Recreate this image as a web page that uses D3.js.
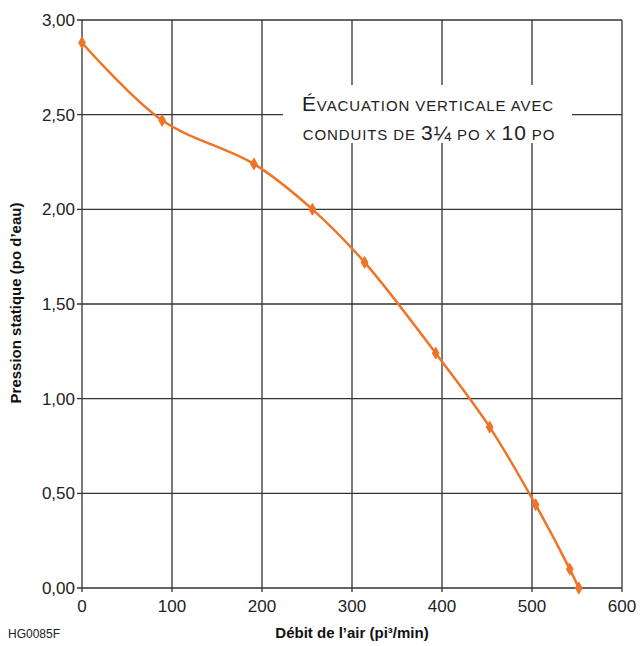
<!DOCTYPE html>
<html>
<head>
<meta charset="utf-8">
<script src="https://cdn.jsdelivr.net/npm/d3@7"></script>
<style>
    body { margin: 0; background: #fff; }
    svg { font-family: "Liberation Sans", Arial, sans-serif; }
    .grid line { stroke: #333; stroke-width: 1.3; }
    .tick-label { font-size: 17px; fill: #222; }
</style>
</head>
<body>
<div class="graph"></div>
<script>
    // debit de l'air (pi3/min) and pression statique (po d'eau)
    const airflow = [0, 89, 191, 256, 314, 393, 453, 504, 542, 552];
    const pressure = [2.88, 2.47, 2.24, 2.00, 1.72, 1.24, 0.85, 0.44, 0.10, 0.00];
    const xTicks = [0, 100, 200, 300, 400, 500, 600];
    const yTicks = [0, 0.5, 1, 1.5, 2, 2.5, 3];

    (function () {
        const width = 640, height = 646;
        const svg = d3.select(".graph").append("svg")
            .attr("width", width)
            .attr("height", height);

        const x = d3.scaleLinear().domain([0, 600]).range([82, 622]);
        const y = d3.scaleLinear().domain([0, 3]).range([588, 20]);
        const fmt = d => d.toFixed(2).replace(".", ",");

        const grid = svg.append("g").attr("class", "grid");
        grid.selectAll("line.v").data(xTicks).enter().append("line")
            .attr("x1", d => x(d)).attr("x2", d => x(d))
            .attr("y1", y(3)).attr("y2", y(0) + 4);
        grid.selectAll("line.h").data(yTicks).enter().append("line")
            .attr("x1", x(0) - 5).attr("x2", x(600))
            .attr("y1", d => y(d)).attr("y2", d => y(d));

        svg.selectAll("text.ylab").data(yTicks).enter().append("text")
            .attr("class", "tick-label")
            .attr("x", 75).attr("y", d => y(d) + 6)
            .attr("text-anchor", "end")
            .text(fmt);

        svg.selectAll("text.xlab").data(xTicks).enter().append("text")
            .attr("class", "tick-label")
            .attr("x", d => x(d)).attr("y", 612)
            .attr("text-anchor", "middle")
            .text(d => d);

        // title box
        svg.append("rect")
            .attr("x", 283).attr("y", 85).attr("width", 289).attr("height", 58)
            .attr("fill", "#fff");
        const big = 21, small = 15;
        const t1 = svg.append("text").attr("x", 428).attr("y", 111)
            .attr("text-anchor", "middle").attr("fill", "#222")
            .attr("letter-spacing", 0.9);
        t1.append("tspan").attr("font-size", big).text("É");
        t1.append("tspan").attr("font-size", small).text("VACUATION VERTICALE AVEC");
        const t2 = svg.append("text").attr("x", 429).attr("y", 140)
            .attr("text-anchor", "middle").attr("fill", "#222")
            .attr("letter-spacing", 0.9);
        t2.append("tspan").attr("font-size", small).text("CONDUITS DE ");
        t2.append("tspan").attr("font-size", big).text("3¼");
        t2.append("tspan").attr("font-size", small).text(" PO X ");
        t2.append("tspan").attr("font-size", big).text("10");
        t2.append("tspan").attr("font-size", small).text(" PO");

        const pts = airflow.map((d, i) => [d, pressure[i]]);
        const line = d3.line()
            .x(d => x(d[0])).y(d => y(d[1]))
            .curve(d3.curveCatmullRom.alpha(0.5));
        svg.append("path").datum(pts)
            .attr("d", line)
            .attr("fill", "none")
            .attr("stroke", "#f07427")
            .attr("stroke-width", 2.5);

        svg.selectAll("path.mark").data(pts).enter().append("path")
            .attr("d", d3.symbol().type(d3.symbolDiamond).size(36))
            .attr("transform", d => "translate(" + x(d[0]) + "," + y(d[1]) + ")")
            .attr("fill", "#f07427")
            .attr("stroke", "#f07427")
            .attr("stroke-width", 1.2)
            .attr("stroke-linejoin", "round");

        svg.append("text")
            .attr("x", 352).attr("y", 638)
            .attr("text-anchor", "middle")
            .attr("font-size", 15).attr("font-weight", "bold").attr("fill", "#111")
            .text("Débit de l’air (pi³/min)");

        svg.append("text")
            .attr("transform", "translate(21,303) rotate(-90)")
            .attr("text-anchor", "middle")
            .attr("font-size", 15).attr("font-weight", "bold").attr("fill", "#111")
            .text("Pression statique (po d’eau)");

        svg.append("text")
            .attr("x", 8).attr("y", 638)
            .attr("font-size", 12).attr("fill", "#222")
            .text("HG0085F");
    })();
</script>
</body>
</html>
